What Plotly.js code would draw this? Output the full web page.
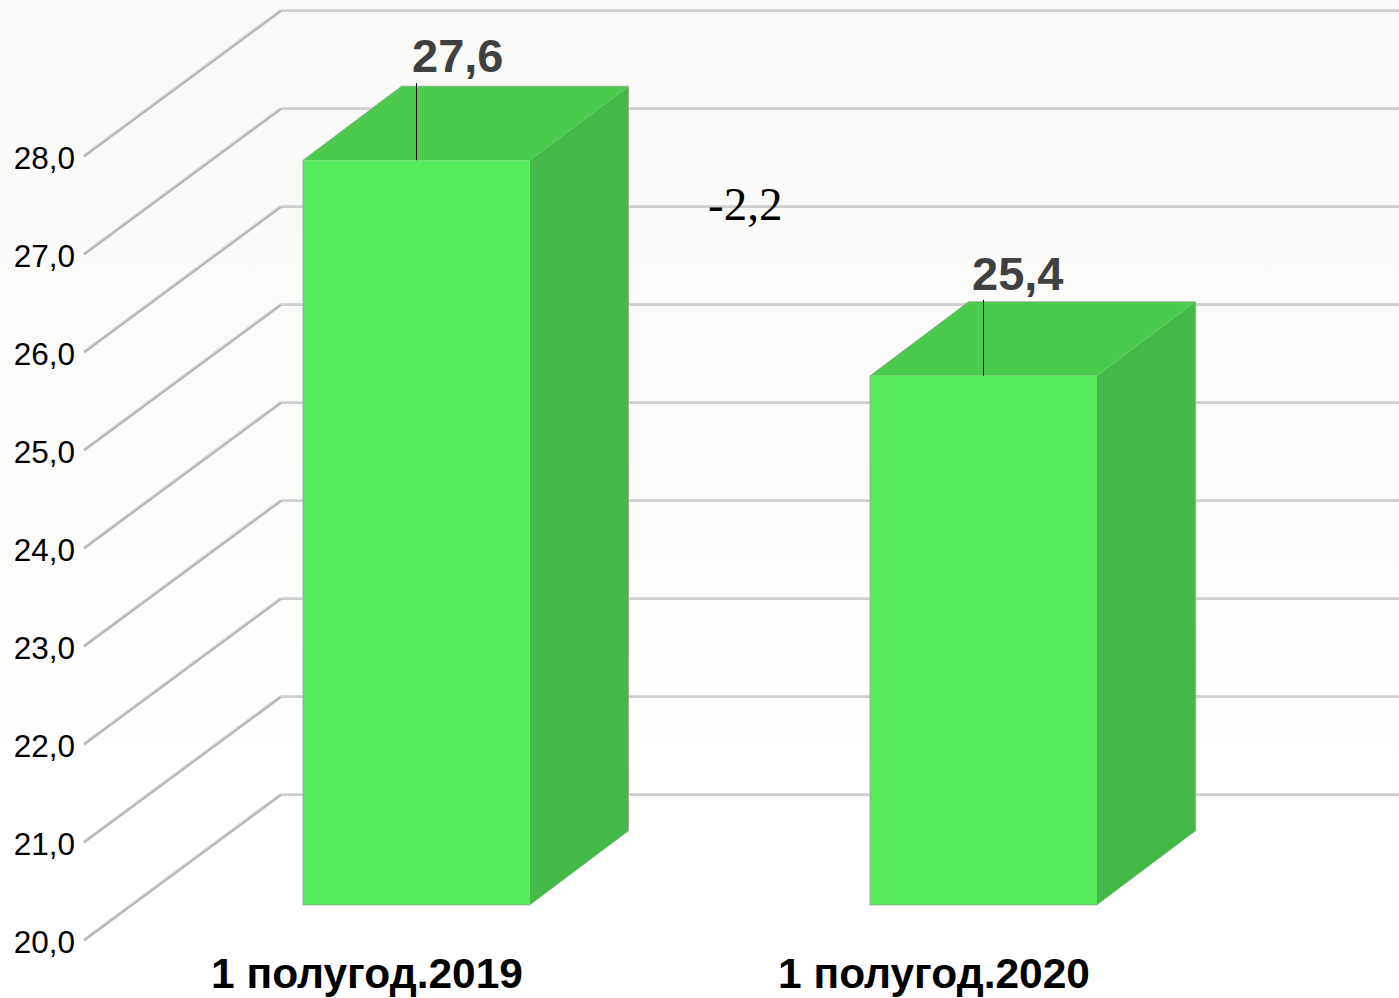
<!DOCTYPE html>
<html>
<head>
<meta charset="utf-8">
<script src="https://cdn.plot.ly/plotly-3.0.1.min.js"></script>
<style>
html,body{margin:0;padding:0;width:1399px;height:998px;overflow:hidden;background:linear-gradient(to bottom,#f9f9f7 0%,#fbfbf9 45%,#ffffff 80%,#ffffff 100%);}
#chart{width:1399px;height:998px;}
</style>
</head>
<body>
<div id="chart"></div>
<script>
var categories = ["1 полугод.2019", "1 полугод.2020"];
var values = [27.6, 25.4];
var differenceLabel = "-2,2";
var tickValues = [20, 21, 22, 23, 24, 25, 26, 27, 28];
var tickLabels = ["20,0", "21,0", "22,0", "23,0", "24,0", "25,0", "26,0", "27,0", "28,0"];

/* scale: 567 px per category, 98 px per value unit */
var W = 1399, H = 998, ML = 76, MB = 54, PXX = 567, PXY = 98;
var PX0 = 416.5, PY0 = 905;
function xr(ox){ return [(ML-ox)/PXX, (W-ox)/PXX]; }
function yr(oy){ return [20-(H-MB-oy)/PXY, 20+oy/PXY]; }
var halfW = 113.5/PXX, dX = 98.5/PXX, dY = 74/PXY;
var wallFrontX = (84-PX0)/PXX, wallBackX = (281-PX0)/PXX;
var wallFrontY = -35/PXY, wallBackY = 110.5/PXY;

var traces = [];
function poly(xs, ys, color){
  traces.push({type:'scatter',mode:'lines',x:xs,y:ys,fill:'toself',fillcolor:color,line:{width:0,color:color},hoverinfo:'skip',showlegend:false});
}
function line(xs, ys, color, width){
  traces.push({type:'scatter',mode:'lines',x:xs,y:ys,line:{color:color,width:width,simplify:false},hoverinfo:'skip',showlegend:false,connectgaps:false});
}
/* walls and grid */
var rightX = (W+5-PX0)/PXX;
tickValues.forEach(function(v){
  line([wallBackX, rightX], [v+wallBackY, v+wallBackY], '#d8d8d8', 3);
  line([wallBackX, rightX], [v+wallBackY-0.6/PXY, v+wallBackY-0.6/PXY], '#c6c6c6', 1);
  line([wallFrontX, wallBackX], [v+wallFrontY, v+wallBackY], '#d4d4d4', 3.4);
  line([wallFrontX, wallBackX], [v+wallFrontY-0.5/PXY, v+wallBackY-0.5/PXY], '#b4b4b4', 1.6);
});
/* bars */
values.forEach(function(v,i){
  var L=i-halfW, R=i+halfW;
  poly([L,R,R,L,L],[20,20,v,v,20],'#57ea5a');
  poly([L,R,R+dX,L+dX,L],[v,v,v+dY,v+dY,v],'#4bcb4e');
  poly([R,R+dX,R+dX,R,R],[20,20+dY,v+dY,v,20],'#44b948');
  line([R,L,L,L+dX,R+dX,R+dX],[20,20,v,v+dY,v+dY,20+dY],'rgba(150,160,150,0.75)',1);
  /* leader line */
  line([i,i],[v,v+(i===0?77:76)/PXY],'#000000',1);
});
/* invisible trace that brings the labelling axes into the figure */
traces.push({type:'scatter',mode:'markers',x:[0,1],y:[20,28],xaxis:'x2',yaxis:'y2',marker:{opacity:0,size:1},hoverinfo:'skip',showlegend:false});

var valueShift = [[41,105],[34,102]];
var annotations = values.map(function(v,i){
  return {x:i,y:v,xref:'x',yref:'y',xshift:valueShift[i][0],yshift:valueShift[i][1],showarrow:false,
    text:'<b>'+v.toFixed(1).replace('.',',')+'</b>',
    font:{family:'Liberation Sans, Arial, sans-serif',size:47,color:'#404040'},xanchor:'center',yanchor:'middle'};
});
annotations.push({x:0.5,y:values[0],xref:'x',yref:'y',xshift:45,yshift:-44,showarrow:false,text:differenceLabel,
  font:{family:'Liberation Serif, Times New Roman, serif',size:47,color:'#000000'},xanchor:'center',yanchor:'middle'});

var layout = {
  width:W,height:H,margin:{l:ML,r:0,t:0,b:MB,pad:0},
  paper_bgcolor:'rgba(0,0,0,0)',plot_bgcolor:'rgba(0,0,0,0)',showlegend:false,hovermode:false,
  xaxis:{range:xr(PX0),showgrid:false,zeroline:false,showline:false,showticklabels:false,ticks:'',fixedrange:true},
  yaxis:{range:yr(PY0),showgrid:false,zeroline:false,showline:false,showticklabels:false,ticks:'',fixedrange:true},
  xaxis2:{overlaying:'x',anchor:'y2',range:xr(367),tickmode:'array',tickvals:[0,1],ticktext:categories,
    showgrid:false,zeroline:false,showline:false,ticks:'',fixedrange:true,
    tickfont:{family:'Liberation Sans, Arial, sans-serif',size:42.5,color:'#000000',weight:'bold'}},
  yaxis2:{overlaying:'y',anchor:'x2',range:yr(942),tickmode:'array',tickvals:tickValues,ticktext:tickLabels,
    showgrid:false,zeroline:false,showline:false,ticks:'',fixedrange:true,
    tickfont:{family:'Liberation Sans, Arial, sans-serif',size:31.5,color:'#000000'}},
  annotations:annotations
};
Plotly.newPlot('chart',traces,layout,{displayModeBar:false,staticPlot:true});
</script>
</body>
</html>
